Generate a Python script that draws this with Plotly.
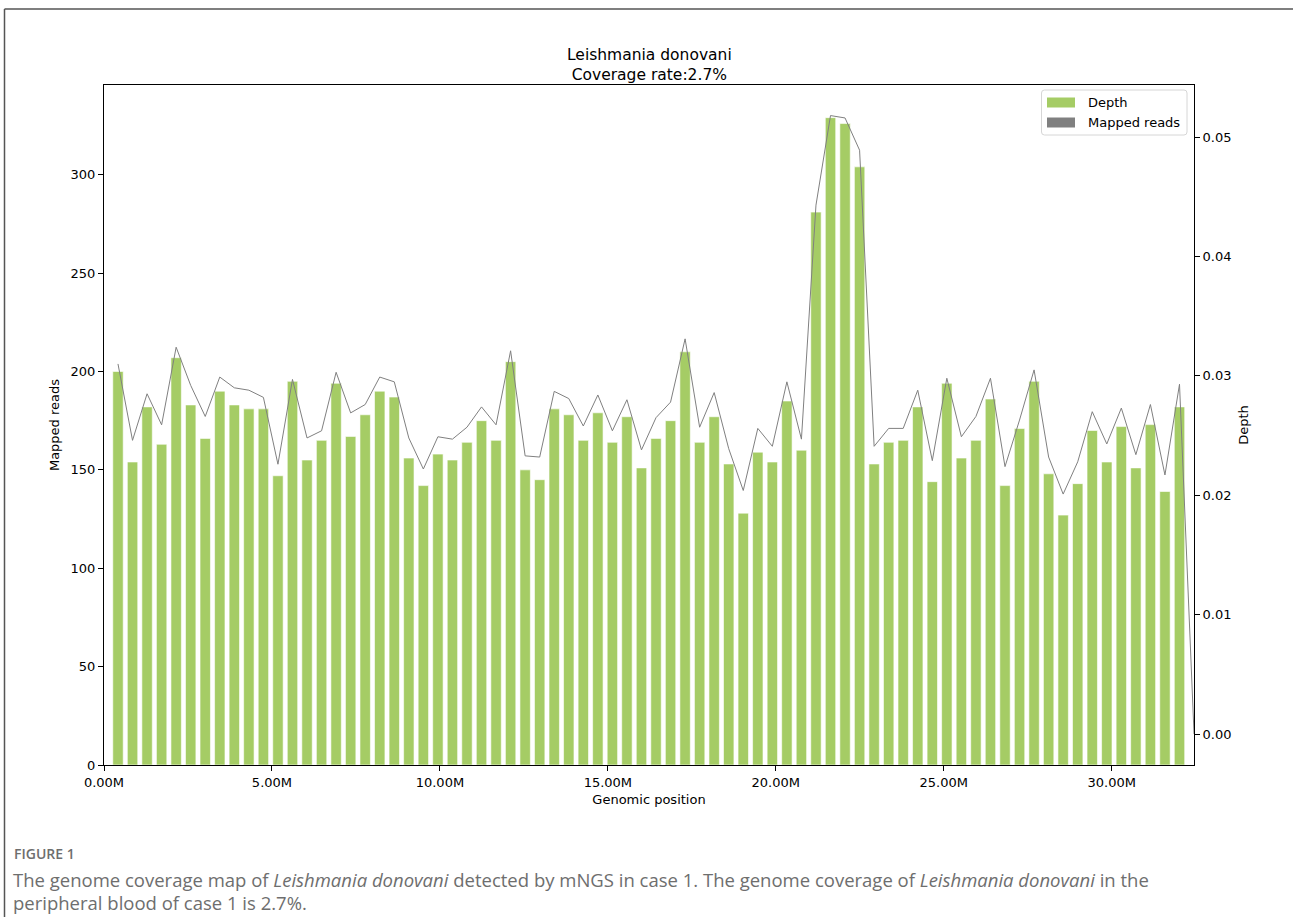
import numpy as np
import plotly.graph_objects as go

# ---------------- data ----------------
# genomic bins (Mb): 75 equally sized bins across the genome
bin_start_m = 0.4165
bin_step_m = 0.4329
n_bins = 75
positions_m = bin_start_m + np.arange(n_bins) * bin_step_m

mapped_reads = [200, 154, 182, 163, 207, 183, 166, 190, 183, 181, 181, 147, 195, 155, 165,
                194, 167, 178, 190, 187, 156, 142, 158, 155, 164,
                175, 165, 205, 150, 145, 181, 178, 165, 179, 164, 177, 151, 166, 175, 210,
                164, 177, 153, 128, 159, 154, 185, 160, 281, 329,
                326, 304, 153, 164, 165, 182, 144, 194, 156, 165, 186, 142, 171, 195, 148,
                127, 143, 170, 154, 172, 151, 173, 139, 182, 0]

depth = [0.0310, 0.0246, 0.0285, 0.0259, 0.0324, 0.0292, 0.0266, 0.0299, 0.0290, 0.0288,
         0.0282, 0.0226, 0.0297, 0.0248, 0.0254, 0.0303, 0.0269, 0.0276, 0.0299, 0.0295,
         0.0248, 0.0222, 0.0249, 0.0247, 0.0257,
         0.0274, 0.0259, 0.0321, 0.0233, 0.0232, 0.0287, 0.0281, 0.0258, 0.0284, 0.0254,
         0.0280, 0.0238, 0.0265, 0.0278, 0.0331, 0.0257, 0.0286, 0.0239, 0.0204, 0.0256,
         0.0241, 0.0295, 0.0247, 0.0443, 0.0518,
         0.0516, 0.0489, 0.0241, 0.0256, 0.0256, 0.0288, 0.0229, 0.0298, 0.0249, 0.0266,
         0.0298, 0.0224, 0.0263, 0.0305, 0.0232, 0.0201, 0.0228, 0.0270, 0.0243, 0.0273,
         0.0234, 0.0276, 0.0217, 0.0293, 0.0]

x_ticks = [0, 5, 10, 15, 20, 25, 30]
x_tick_labels = ["0.00M", "5.00M", "10.00M", "15.00M", "20.00M", "25.00M", "30.00M"]
y_ticks = [0, 50, 100, 150, 200, 250, 300]
y2_ticks = [0.00, 0.01, 0.02, 0.03, 0.04, 0.05]
y2_tick_labels = ["0.00", "0.01", "0.02", "0.03", "0.04", "0.05"]

legend_labels = ["Depth", "Mapped reads"]
title_lines = ["Leishmania donovani", "Coverage rate:2.7%"]
caption_label = "FIGURE 1"
caption_lines = [
    "The genome coverage map of <i>Leishmania donovani</i> detected by mNGS in case 1. "
    "The genome coverage of <i>Leishmania donovani</i> in the",
    "peripheral blood of case 1 is 2.7%.",
]

# ---------------- style ----------------
W, H = 1293, 917
ML, MR, MT, MB = 104, 99, 85, 152
PW, PH = W - ML - MR, H - MT - MB
GREEN = "#a5cc65"
GREY = "#808080"
FONT = "DejaVu Sans"
CAP_COLOR = "#6e6e6e"


def xp(px):
    return (px - ML) / PW


def yp(py):
    return (H - MB - py) / PH


fig = go.Figure()
fig.add_trace(go.Bar(
    x=positions_m, y=mapped_reads, width=0.31, name=legend_labels[0],
    marker=dict(color=GREEN, line=dict(color="white", width=0.6)),
    yaxis="y", hoverinfo="skip", showlegend=False))
fig.add_trace(go.Scatter(
    x=positions_m, y=depth, mode="lines", name=legend_labels[1],
    line=dict(color=GREY, width=1), yaxis="y2", showlegend=False))

axis_common = dict(
    showline=True, linecolor="black", linewidth=1,
    ticks="outside", ticklen=5, tickwidth=1, tickcolor="black",
    showgrid=False, zeroline=False,
    tickfont=dict(family=FONT, size=13, color="black"),
)

fig.update_layout(
    width=W, height=H,
    margin=dict(l=ML, r=MR, t=MT, b=MB, pad=0),
    plot_bgcolor="white", paper_bgcolor="white",
    font=dict(family=FONT, size=13, color="black"),
    barmode="overlay",
    showlegend=False,
    xaxis=dict(range=[0, 32.45], tickvals=x_ticks, ticktext=x_tick_labels,
               mirror=True,
               title=dict(text="Genomic position", font=dict(family=FONT, size=13), standoff=6),
               **axis_common),
    yaxis=dict(range=[0, 345.6], tickvals=y_ticks,
               title=dict(text="Mapped reads", font=dict(family=FONT, size=13), standoff=8),
               **axis_common),
    yaxis2=dict(overlaying="y", side="right", range=[-0.00259, 0.05436],
                tickvals=y2_ticks, ticktext=y2_tick_labels,
                title=dict(text="Depth", font=dict(family=FONT, size=13), standoff=8),
                **axis_common),
)

# title
fig.add_annotation(
    text="<br>".join(title_lines), xref="paper", yref="paper", x=0.5, y=1,
    xanchor="center", yanchor="bottom", yshift=-1, showarrow=False,
    font=dict(family=FONT, size=15.5, color="black"), align="center")

# custom legend (matplotlib style patches)
bx0, bx1, by0, by1, rr = 1041.5, 1187, 90, 135, 3
box_path = (f"M {xp(bx0 + rr)},{yp(by0)} L {xp(bx1 - rr)},{yp(by0)} "
            f"Q {xp(bx1)},{yp(by0)} {xp(bx1)},{yp(by0 + rr)} "
            f"L {xp(bx1)},{yp(by1 - rr)} Q {xp(bx1)},{yp(by1)} {xp(bx1 - rr)},{yp(by1)} "
            f"L {xp(bx0 + rr)},{yp(by1)} Q {xp(bx0)},{yp(by1)} {xp(bx0)},{yp(by1 - rr)} "
            f"L {xp(bx0)},{yp(by0 + rr)} Q {xp(bx0)},{yp(by0)} {xp(bx0 + rr)},{yp(by0)} Z")
fig.add_shape(type="path", path=box_path, xref="paper", yref="paper",
              fillcolor="rgba(255,255,255,0.8)", line=dict(color="#d6d6d6", width=1))
for label, color, cy in zip(legend_labels, [GREEN, GREY], [102.5, 122.5]):
    fig.add_shape(type="rect", xref="paper", yref="paper",
                  x0=xp(1047), x1=xp(1075), y0=yp(cy - 5), y1=yp(cy + 5),
                  fillcolor=color, line=dict(width=0))
    fig.add_annotation(text=label, xref="paper", yref="paper", x=xp(1086), y=yp(cy),
                       xanchor="left", yanchor="middle", showarrow=False,
                       font=dict(family=FONT, size=13, color="black"))

# caption
fig.add_annotation(
    text=caption_label, xref="paper", yref="paper", x=xp(12), y=yp(853),
    xanchor="left", yanchor="middle", showarrow=False,
    font=dict(family="Open Sans", size=14, color=CAP_COLOR, weight=600))
for line, cy in zip(caption_lines, [879, 902]):
    fig.add_annotation(
        text=line, xref="paper", yref="paper", x=xp(12), y=yp(cy),
        xanchor="left", yanchor="middle", showarrow=False, align="left",
        borderpad=0,
        font=dict(family="Open Sans", size=18.5, color=CAP_COLOR))

# outer frame (top and left edges)
fig.add_shape(type="line", xref="paper", yref="paper",
              x0=xp(4.5), y0=yp(9), x1=xp(W + 2), y1=yp(9),
              line=dict(color="#555555", width=1.5))
fig.add_shape(type="line", xref="paper", yref="paper",
              x0=xp(4.5), y0=yp(9), x1=xp(4.5), y1=yp(H + 2),
              line=dict(color="#555555", width=1.5))

fig.write_html("out.html")
